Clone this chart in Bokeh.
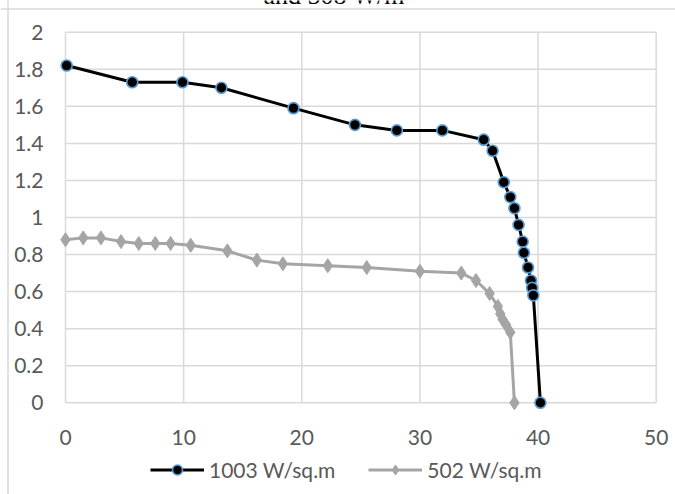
from bokeh.plotting import figure
from bokeh.models import (Legend, LegendItem, Range1d, FixedTicker, CustomJSTickFormatter,
                          Label, Span)
from bokeh.embed import file_html
from bokeh.resources import INLINE

# Series 1: 1003 W/sq.m
x1 = [0.1, 5.65, 9.9, 13.2, 19.3, 24.5, 28.05, 31.9, 35.4, 36.15, 37.1, 37.65, 38.0, 38.35,
      38.7, 38.8, 39.15, 39.4, 39.5, 39.6, 40.2]
y1 = [1.82, 1.73, 1.73, 1.70, 1.59, 1.50, 1.47, 1.47, 1.42, 1.36, 1.19, 1.11, 1.05, 0.96,
      0.87, 0.81, 0.73, 0.66, 0.62, 0.58, 0.0]
# Series 2: 502 W/sq.m
x2 = [0.0, 1.5, 3.0, 4.7, 6.2, 7.6, 8.9, 10.6, 13.7, 16.2, 18.4, 22.2, 25.5, 30.0, 33.5,
      34.75, 35.9, 36.6, 36.8, 37.0, 37.3, 37.65, 38.0]
y2 = [0.88, 0.89, 0.89, 0.87, 0.86, 0.86, 0.86, 0.85, 0.82, 0.77, 0.75, 0.74, 0.73, 0.71, 0.70,
      0.66, 0.59, 0.52, 0.48, 0.45, 0.42, 0.38, 0.0]
x_ticks = [0, 10, 20, 30, 40, 50]
y_ticks = [0, 0.2, 0.4, 0.6, 0.8, 1.0, 1.2, 1.4, 1.6, 1.8, 2.0]
names = ["1003 W/sq.m", "502 W/sq.m"]
title_fragment = "and 508 W/m²"

FONT = "Lato"
GRID = "#d9d9d9"
LABEL = "#595959"
W, H = 675, 494

# plot-area placement (pixels) -> ranges so that the frame covers the whole canvas
XA, XB = 65.0, 655.7     # pixel of x=0 and x=50
YA, YB = 402.3, 31.7     # pixel of y=0 and y=2
sx = (XB - XA) / (x_ticks[-1] - x_ticks[0])
sy = (YA - YB) / (y_ticks[-1] - y_ticks[0])
x_start = x_ticks[0] - XA / sx
x_end = x_ticks[-1] + (W - XB) / sx
y_start = y_ticks[0] - (H - YA) / sy
y_end = y_ticks[-1] + YB / sy

def px_to_x(px):
    return x_start + px / sx

def px_to_y(py):
    return y_end - py / sy

p = figure(width=W, height=H, output_backend="svg", toolbar_location=None,
           x_range=Range1d(x_start, x_end), y_range=Range1d(y_start, y_end),
           min_border_left=0, min_border_right=0, min_border_top=0, min_border_bottom=0)
p.outline_line_color = None
p.background_fill_color = "white"
p.border_fill_color = "white"
p.xgrid.visible = False
p.ygrid.visible = False

for ax in (p.xaxis[0], p.yaxis[0]):
    ax.fixed_location = 0
    ax.axis_line_color = None
    ax.major_tick_line_color = None
    ax.minor_tick_line_color = None
    ax.major_tick_in = 0
    ax.major_tick_out = 0
    ax.minor_tick_in = 0
    ax.minor_tick_out = 0
    ax.major_label_text_color = LABEL
    ax.major_label_text_font = FONT
    ax.major_label_text_font_size = "21px"
p.xaxis.ticker = FixedTicker(ticks=x_ticks)
p.yaxis.ticker = FixedTicker(ticks=y_ticks)
p.yaxis.formatter = CustomJSTickFormatter(code="return String(Number(tick.toFixed(1)));")
p.xaxis.major_label_standoff = 27
p.yaxis.major_label_standoff = 22

# gridlines over the plot area only
p.segment(x0=x_ticks, x1=x_ticks, y0=[y_ticks[0]] * len(x_ticks), y1=[y_ticks[-1]] * len(x_ticks),
          line_color=GRID, line_width=1.5)
p.segment(x0=[x_ticks[0]] * len(y_ticks), x1=[x_ticks[-1]] * len(y_ticks), y0=y_ticks, y1=y_ticks,
          line_color=GRID, line_width=1.5)

l1 = p.line(x1, y1, line_color="black", line_width=3)
s1 = p.scatter(x1, y1, marker="circle", size=11, fill_color="black",
               line_color="#5b9bd5", line_width=1.6)
l2 = p.line(x2, y2, line_color="#a5a5a5", line_width=3)
s2 = p.scatter(x2, y2, marker="diamond", size=14, fill_color="#a5a5a5", line_color="#a5a5a5")

legend = Legend(items=[LegendItem(label=names[0], renderers=[l1, s1]),
                       LegendItem(label=names[1], renderers=[l2, s2])],
                orientation="horizontal", location=(150, 12),
                label_text_font=FONT, label_text_font_size="21px", label_text_color=LABEL,
                glyph_width=54, glyph_height=25, label_height=25, spacing=33,
                padding=0, margin=0, border_line_color=None,
                background_fill_alpha=0, label_standoff=5)
p.add_layout(legend)

# outer chart border (left and top) and the clipped title fragment
p.add_layout(Span(location=px_to_x(7.5), dimension="height", line_color=GRID, line_width=1.5))
p.add_layout(Span(location=px_to_y(8.5), dimension="width", line_color=GRID, line_width=1.5))
p.add_layout(Label(x=263, y=H + 5, x_units="screen", y_units="screen", text=title_fragment,
                   text_font="Liberation Serif", text_font_size="26px",
                   text_color="black", text_baseline="alphabetic"))

open("out.html", "w").write(file_html(p, INLINE))
